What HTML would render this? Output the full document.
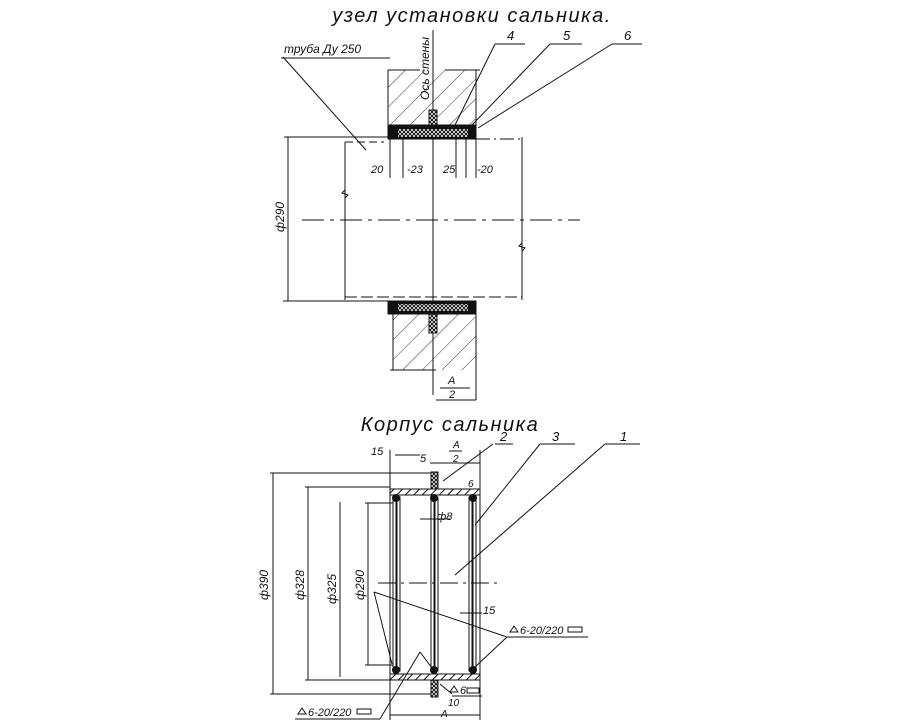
<!DOCTYPE html>
<html><head><meta charset="utf-8"><style>
html,body{margin:0;padding:0;background:#fff;}
svg{display:block;}
text{font-family:"Liberation Sans","DejaVu Sans",sans-serif;font-style:italic;fill:#111;}
</style></head><body>
<svg width="900" height="720" viewBox="0 0 900 720" xmlns="http://www.w3.org/2000/svg">
<defs>
<pattern id="hatch" width="14" height="14" patternUnits="userSpaceOnUse" patternTransform="rotate(45)">
<line x1="0" y1="0" x2="0" y2="14" stroke="#333" stroke-width="1"/>
</pattern>
<pattern id="xh" width="4" height="4" patternUnits="userSpaceOnUse">
<rect width="4" height="4" fill="#fff"/><path d="M0 0L4 4M4 0L0 4" stroke="#111" stroke-width="1"/>
</pattern>
<pattern id="sh" width="6" height="6" patternUnits="userSpaceOnUse" patternTransform="rotate(45)">
<rect width="6" height="6" fill="#fff"/><line x1="0" y1="0" x2="0" y2="6" stroke="#111" stroke-width="2"/>
</pattern>
</defs>
<g stroke="#111" fill="none" stroke-width="1">
<!-- TOP -->
<text x="472" y="22" font-size="20" letter-spacing="1.5" text-anchor="middle" stroke="none">узел установки сальника.</text>
<text x="284" y="53" font-size="12" stroke="none">труба Ду 250</text>
<line x1="281" y1="58" x2="390" y2="58"/>
<line x1="283" y1="57" x2="366" y2="150"/>
<!-- walls -->
<rect x="388" y="70" width="88" height="55" fill="url(#hatch)" stroke="none"/>
<line x1="388" y1="70" x2="388" y2="125"/><line x1="476" y1="70" x2="476" y2="125"/>
<line x1="388" y1="70" x2="420" y2="70"/><line x1="445" y1="70" x2="480" y2="70"/>
<rect x="393" y="313" width="83" height="57" fill="url(#hatch)" stroke="none"/>
<line x1="393" y1="313" x2="393" y2="370"/><line x1="476" y1="313" x2="476" y2="400"/>
<line x1="390" y1="370" x2="436" y2="370"/>
<!-- wall axis -->
<line x1="433" y1="30" x2="433" y2="395"/>
<text x="0" y="0" font-size="12" stroke="none" transform="translate(429,100) rotate(-90)">Ось стены</text>
<!-- packing -->
<rect x="388" y="125" width="88" height="14" fill="#111"/>
<rect x="398" y="129" width="70" height="8" fill="url(#xh)" stroke="none"/>
<rect x="429" y="110" width="8" height="15" fill="url(#xh)"/>
<rect x="388" y="301" width="88" height="13" fill="#111"/>
<rect x="398" y="304" width="70" height="7" fill="url(#xh)" stroke="none"/>
<rect x="429" y="314" width="8" height="19" fill="url(#xh)"/>
<!-- pipe -->
<line x1="284" y1="137" x2="388" y2="137"/><line x1="476" y1="139" x2="522" y2="139" stroke-dasharray="14,4,2,4"/>
<line x1="345" y1="142" x2="345" y2="300"/>
<line x1="522" y1="137" x2="522" y2="300"/>
<line x1="345" y1="142" x2="384" y2="142" stroke-dasharray="8,4"/>
<line x1="345" y1="297" x2="522" y2="297" stroke-dasharray="12,4"/>
<line x1="283" y1="301" x2="388" y2="301"/>
<path d="M345 190l-3 3 6 2-3 3M522 243l-3 3 6 2-3 3"/>
<line x1="288" y1="137" x2="288" y2="301"/>
<text x="0" y="0" font-size="12" stroke="none" transform="translate(284,232) rotate(-90)">ф290</text>
<line x1="302" y1="220" x2="580" y2="220" stroke-dasharray="22,6,4,6"/>
<!-- small dims -->
<line x1="390" y1="139" x2="390" y2="178"/><line x1="403" y1="139" x2="403" y2="178"/>
<line x1="456" y1="139" x2="456" y2="178"/><line x1="466" y1="139" x2="466" y2="178"/><line x1="476" y1="139" x2="476" y2="178"/>
<text x="371" y="173" font-size="11" stroke="none">20</text>
<text x="407" y="173" font-size="11" stroke="none">-23</text>
<text x="443" y="173" font-size="11" stroke="none">25</text>
<text x="477" y="173" font-size="11" stroke="none">-20</text>
<!-- leaders 4 5 6 -->
<line x1="495" y1="44" x2="525" y2="44"/><text x="507" y="40" font-size="13" stroke="none">4</text>
<line x1="495" y1="44" x2="455" y2="125"/>
<line x1="550" y1="44" x2="582" y2="44"/><text x="563" y="40" font-size="13" stroke="none">5</text>
<line x1="550" y1="44" x2="472" y2="125"/>
<line x1="612" y1="44" x2="642" y2="44"/><text x="624" y="40" font-size="13" stroke="none">6</text>
<line x1="612" y1="44" x2="478" y2="128"/>
<!-- A/2 -->
<line x1="436" y1="400" x2="476" y2="400"/><line x1="440" y1="388" x2="470" y2="388"/>
<text x="448" y="384" font-size="11" stroke="none">A</text><text x="449" y="398" font-size="11" stroke="none">2</text>

<!-- BOTTOM -->
<text x="450" y="431" font-size="20" letter-spacing="1.5" text-anchor="middle" stroke="none">Корпус сальника</text>
<rect x="390" y="489" width="90" height="6" fill="url(#sh)"/>
<rect x="390" y="674" width="90" height="6" fill="url(#sh)"/>
<rect x="393" y="497" width="7" height="174" fill="#fff"/><line x1="396.5" y1="500" x2="396.5" y2="668" stroke-width="2"/>
<rect x="431" y="497" width="7" height="174" fill="#fff"/><line x1="434.5" y1="500" x2="434.5" y2="668" stroke-width="2"/>
<rect x="469" y="497" width="7" height="174" fill="#fff"/><line x1="472.5" y1="500" x2="472.5" y2="668" stroke-width="2"/>
<g fill="#111" stroke="none">
<circle cx="396" cy="498" r="4"/><circle cx="434" cy="498" r="4"/><circle cx="473" cy="498" r="4"/>
<circle cx="396" cy="670" r="4"/><circle cx="434" cy="670" r="4"/><circle cx="473" cy="670" r="4"/>
</g>
<rect x="431" y="472" width="7" height="17" fill="url(#xh)"/>
<rect x="431" y="680" width="7" height="17" fill="url(#xh)"/>
<!-- dims -->
<line x1="273" y1="473" x2="273" y2="694"/><line x1="270" y1="473" x2="431" y2="473"/><line x1="270" y1="694" x2="431" y2="694"/>
<text x="0" y="0" font-size="12" stroke="none" transform="translate(268,600) rotate(-90)">ф390</text>
<line x1="308" y1="487" x2="308" y2="680"/><line x1="305" y1="487" x2="390" y2="487"/><line x1="305" y1="680" x2="390" y2="680"/>
<text x="0" y="0" font-size="12" stroke="none" transform="translate(304,600) rotate(-90)">ф328</text>
<line x1="340" y1="502" x2="340" y2="677"/>
<text x="0" y="0" font-size="12" stroke="none" transform="translate(336,604) rotate(-90)">ф325</text>
<line x1="368" y1="503" x2="368" y2="665"/><line x1="365" y1="503" x2="393" y2="503"/><line x1="365" y1="665" x2="393" y2="665"/>
<text x="0" y="0" font-size="12" stroke="none" transform="translate(364,600) rotate(-90)">ф290</text>
<line x1="378" y1="583" x2="500" y2="583" stroke-dasharray="18,5,3,5"/>
<line x1="390" y1="450" x2="390" y2="720"/><line x1="480" y1="450" x2="480" y2="720"/>
<line x1="395" y1="455" x2="420" y2="455"/><text x="371" y="455" font-size="11" stroke="none">15</text>
<line x1="430" y1="463" x2="480" y2="463"/><text x="420" y="462" font-size="11" stroke="none">5</text>
<text x="453" y="448" font-size="10" stroke="none">A</text><line x1="449" y1="451" x2="462" y2="451"/><text x="453" y="462" font-size="10" stroke="none">2</text>
<line x1="390" y1="715" x2="480" y2="715"/>
<text x="437" y="520" font-size="11" stroke="none">ф8</text><line x1="420" y1="519" x2="450" y2="519"/>
<text x="483" y="614" font-size="11" stroke="none">15</text><line x1="460" y1="613" x2="482" y2="613"/>
<text x="448" y="706" font-size="10" stroke="none">10</text>
<text x="441" y="717" font-size="10" stroke="none">A</text>
<text x="468" y="487" font-size="10" stroke="none">6</text>
<!-- leaders 2 3 1 -->
<line x1="495" y1="444" x2="513" y2="444"/><text x="500" y="441" font-size="13" stroke="none">2</text>
<line x1="493" y1="444" x2="443" y2="481"/>
<line x1="540" y1="444" x2="575" y2="444"/><text x="552" y="441" font-size="13" stroke="none">3</text>
<line x1="540" y1="444" x2="475" y2="525"/>
<line x1="605" y1="444" x2="640" y2="444"/><text x="620" y="441" font-size="13" stroke="none">1</text>
<line x1="605" y1="444" x2="455" y2="575"/>
<!-- weld labels -->
<path d="M510 632l8 0-4-6z"/><text x="520" y="634" font-size="11" stroke="none">6-20/220</text>
<rect x="568" y="627" width="14" height="5"/>
<line x1="507" y1="637" x2="588" y2="637"/>
<line x1="507" y1="637" x2="374" y2="592"/>
<line x1="507" y1="637" x2="474" y2="668"/>
<line x1="374" y1="592" x2="392" y2="664"/>
<path d="M298 714l8 0-4-6z"/><text x="308" y="716" font-size="11" stroke="none">6-20/220</text>
<rect x="357" y="709" width="14" height="5"/>
<line x1="295" y1="719" x2="380" y2="719"/>
<line x1="380" y1="719" x2="420" y2="652"/><line x1="420" y1="652" x2="432" y2="668"/>
<path d="M450 692l8 0-4-6z"/><text x="460" y="694" font-size="11" stroke="none">6</text>
<rect x="467" y="688" width="12" height="5"/>
<line x1="440" y1="684" x2="452" y2="694"/><line x1="452" y1="696" x2="482" y2="696"/>
</g>
</svg>
</body></html>
